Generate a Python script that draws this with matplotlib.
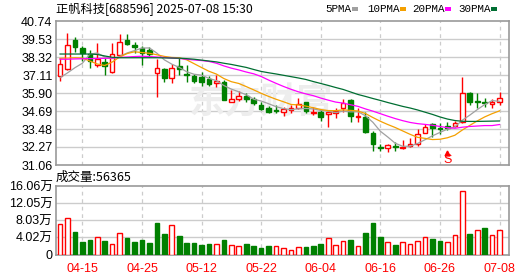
import numpy as np
import matplotlib
matplotlib.use('Agg')
import matplotlib.pyplot as plt
from matplotlib.patches import Rectangle

plt.rcParams['font.family'] = ['Liberation Sans', 'Noto Sans CJK SC']

# trading days shown (MM-DD)
dates = ['04-10', '04-11', '04-14', '04-15', '04-16', '04-17', '04-18', '04-21', '04-22', '04-23',
         '04-24', '04-25', '04-28', '04-29', '04-30', '05-06', '05-07', '05-08', '05-09', '05-12',
         '05-13', '05-14', '05-15', '05-16', '05-19', '05-20', '05-21', '05-22', '05-23', '05-26',
         '05-27', '05-28', '05-29', '05-30', '06-03', '06-04', '06-05', '06-06', '06-09', '06-10',
         '06-11', '06-12', '06-13', '06-16', '06-17', '06-18', '06-19', '06-20', '06-23', '06-24',
         '06-25', '06-26', '06-27', '06-30', '07-01', '07-02', '07-03', '07-04', '07-07', '07-08']

opens = [37.06, 37.49, 39.44, 38.91, 38.50, 37.76, 38.01, 37.31, 38.46, 39.46,
         39.15, 38.95, 38.79, 37.23, 37.51, 36.93, 37.74, 37.17, 37.04, 36.96,
         36.86, 36.55, 36.64, 35.28, 35.50, 35.70, 35.48, 35.07, 34.87, 34.76,
         34.63, 34.76, 34.92, 35.28, 34.54, 34.65, 34.49, 34.54, 34.87, 35.43,
         34.27, 34.27, 33.23, 32.25, 32.23, 32.34, 32.19, 32.36, 32.47, 33.23,
         33.82, 33.57, 33.68, 33.70, 33.97, 35.92, 35.33, 35.30, 35.14, 35.32]
highs = [38.23, 39.93, 39.67, 39.08, 38.79, 39.28, 38.23, 39.24, 39.85, 39.87,
         39.33, 39.06, 39.01, 38.20, 37.56, 37.83, 38.23, 37.78, 37.18, 37.33,
         37.04, 37.11, 36.78, 36.10, 36.06, 35.88, 35.61, 35.32, 35.03, 35.10,
         34.94, 35.10, 35.55, 35.32, 34.98, 34.76, 34.76, 34.87, 35.48, 35.48,
         34.91, 34.65, 33.37, 32.45, 32.45, 32.63, 32.74, 32.90, 33.48, 33.82,
         33.91, 33.91, 33.97, 34.04, 36.96, 35.99, 35.88, 35.55, 35.48, 35.99]
lows = [36.71, 37.45, 38.68, 38.07, 37.56, 37.67, 37.11, 37.23, 38.39, 39.13,
        38.57, 37.78, 38.34, 35.61, 36.66, 36.55, 37.11, 36.66, 36.59, 36.37,
        36.37, 36.33, 35.43, 35.28, 35.38, 35.32, 35.10, 34.76, 34.58, 34.54,
        34.36, 34.58, 34.81, 34.58, 34.42, 34.04, 33.64, 34.20, 34.61, 33.97,
        33.97, 33.23, 32.03, 32.03, 31.92, 32.03, 32.12, 32.29, 32.34, 33.19,
        32.97, 33.15, 33.41, 33.64, 33.87, 35.10, 34.91, 34.98, 34.87, 35.10]
closes = [37.83, 39.11, 39.01, 38.57, 38.05, 38.21, 37.74, 38.50, 39.31, 39.19,
          38.99, 38.61, 38.54, 37.56, 36.93, 37.56, 37.49, 37.11, 36.71, 36.62,
          36.49, 36.73, 35.46, 35.50, 35.72, 35.48, 35.25, 34.85, 34.60, 34.72,
          34.81, 34.92, 35.14, 34.69, 34.60, 34.31, 34.60, 34.69, 35.21, 34.33,
          34.36, 33.26, 32.47, 32.21, 32.39, 32.25, 32.29, 32.47, 33.15, 33.64,
          33.53, 33.48, 33.53, 33.91, 35.88, 35.27, 35.29, 35.25, 35.28, 35.59]

# volume in 万 (10k shares)
volumes = [7.2, 8.5, 5.35, 3.0, 3.5, 4.1, 3.26, 2.5, 5.0, 3.96,
           3.0, 3.5, 2.8, 7.45, 4.9, 6.9, 4.4, 2.8, 2.8, 2.3,
           2.56, 2.56, 3.5, 2.25, 2.0, 2.56, 2.1, 1.63, 2.1, 2.0,
           1.55, 1.1, 1.8, 1.86, 2.1, 2.56, 3.9, 2.25, 3.2, 3.5,
           2.0, 5.1, 7.45, 4.2, 2.95, 2.3, 2.95, 2.5, 3.2, 4.1,
           3.7, 3.26, 2.95, 4.6, 14.8, 4.9, 5.75, 6.3, 4.6, 5.64]

ma5 = [36.93, 37.25, 37.60, 37.90, 38.51, 38.59, 38.32, 38.21, 38.36, 38.59,
       38.75, 38.92, 38.93, 38.58, 38.13, 37.84, 37.62, 37.33, 37.16, 37.10,
       36.88, 36.73, 36.40, 36.16, 35.98, 35.78, 35.48, 35.36, 35.18, 34.98,
       34.85, 34.78, 34.84, 34.86, 34.83, 34.73, 34.67, 34.58, 34.68, 34.63,
       34.64, 34.37, 33.93, 33.33, 32.94, 32.52, 32.32, 32.32, 32.51, 32.76,
       33.02, 33.25, 33.47, 33.62, 34.07, 34.41, 34.78, 35.12, 35.39, 35.34]
ma10 = [38.23, 38.25, 38.27, 38.25, 38.05, 37.85, 37.75, 37.98, 38.32, 38.55,
        38.67, 38.62, 38.57, 38.47, 38.36, 38.29, 38.27, 38.13, 37.87, 37.61,
        37.36, 37.17, 36.87, 36.66, 36.54, 36.33, 36.11, 35.88, 35.67, 35.48,
        35.31, 35.13, 35.10, 35.02, 34.91, 34.79, 34.72, 34.71, 34.77, 34.73,
        34.69, 34.52, 34.25, 34.00, 33.78, 33.58, 33.35, 33.12, 32.92, 32.85,
        32.77, 32.79, 32.89, 33.06, 33.41, 33.72, 34.02, 34.29, 34.51, 34.70]
ma20 = [38.17, 38.17, 38.19, 38.20, 38.21, 38.22, 38.23, 38.25, 38.29, 38.32,
        38.35, 38.37, 38.35, 38.32, 38.29, 38.25, 38.22, 38.17, 38.12, 38.08,
        38.02, 37.90, 37.72, 37.57, 37.45, 37.31, 37.19, 37.01, 36.77, 36.55,
        36.34, 36.15, 35.98, 35.84, 35.72, 35.56, 35.42, 35.29, 35.22, 35.11,
        35.00, 34.83, 34.68, 34.51, 34.34, 34.18, 34.04, 33.92, 33.84, 33.79,
        33.73, 33.65, 33.57, 33.53, 33.60, 33.65, 33.68, 33.71, 33.71, 33.78]
ma30 = [38.52, 38.52, 38.52, 38.52, 38.52, 38.49, 38.39, 38.30, 38.27, 38.27,
        38.27, 38.27, 38.27, 38.27, 38.26, 38.25, 38.24, 38.21, 38.17, 38.11,
        38.05, 37.99, 37.90, 37.82, 37.72, 37.62, 37.48, 37.35, 37.26, 37.18,
        37.09, 37.00, 36.91, 36.81, 36.67, 36.54, 36.41, 36.27, 36.14, 35.97,
        35.80, 35.67, 35.53, 35.40, 35.26, 35.13, 35.00, 34.89, 34.76, 34.61,
        34.46, 34.29, 34.15, 34.05, 34.00, 33.99, 33.99, 34.00, 34.01, 34.02]

price_ticks = [31.06, 32.27, 33.48, 34.69, 35.90, 37.11, 38.32, 39.53, 40.74]
vol_ticks = [0, 4.02, 8.03, 12.05, 16.06]
vol_tick_labels = ['0', '4.02万', '8.03万', '12.05万', '16.06万']
date_ticks = ['04-15', '04-25', '05-12', '05-22', '06-04', '06-16', '06-26', '07-08']
signal_date = '06-27'
last_volume = 56365

RED = '#ff0000'
GREEN = '#008000'
FRAME = '#999999'
GRID = '#cccccc'
ma_styles = [('5PMA', ma5, '#a0a0a0'), ('10PMA', ma10, '#f4a000'),
             ('20PMA', ma20, '#ff00ff'), ('30PMA', ma30, '#006e32')]

n = len(dates)
x = np.arange(n)
tick_pos = [dates.index(d) for d in date_ticks]
bw = 0.62

fig = plt.figure(figsize=(5.3, 2.76), dpi=100)
ax = fig.add_axes([56 / 530, 1 - 165 / 276, 453 / 530, 144 / 276])
vax = fig.add_axes([56 / 530, 1 - 254.5 / 276, 453 / 530, 68.5 / 276])

for a in (ax, vax):
    a.set_xlim(-0.54, n + 0.27)
    for s in a.spines.values():
        s.set_color(FRAME)
        s.set_linewidth(1.2)
    a.tick_params(length=0, labelsize=9, pad=2.5)
    for p in tick_pos:
        a.axvline(p, color=GRID, lw=0.9, ls=(0, (3, 3)), zorder=0)

# --- price panel
ax.set_ylim(price_ticks[0], price_ticks[-1])
ax.set_yticks(price_ticks)
ax.set_yticklabels(['%.2f' % t for t in price_ticks])
ax.set_xticks([])
for t in price_ticks[1:-1]:
    ax.axhline(t, color=GRID, lw=1, zorder=0)

# faint watermark
ax.text(27, 35.3, '东方财富', fontsize=26, color='#ededed', ha='center', va='center',
        family=['Noto Sans CJK SC'], fontweight='bold', zorder=1)

for i in range(n):
    up = closes[i] >= opens[i]
    c = RED if up else GREEN
    ax.vlines(i, lows[i], highs[i], color=c, lw=1, zorder=3)
    lo, hi = min(opens[i], closes[i]), max(opens[i], closes[i])
    ax.add_patch(Rectangle((i - bw / 2, lo), bw, max(hi - lo, 0.025),
                           facecolor='white' if up else c, edgecolor=c, lw=1, zorder=4))

for name, vals, col in ma_styles:
    ax.plot(x, vals, color=col, lw=0.9, zorder=5)

si = dates.index(signal_date)
ax.plot(si, 31.86, marker='^', color=RED, markersize=3.5, zorder=6)
ax.text(si, 31.42, 'S', color=RED, fontsize=9, ha='center', va='center', zorder=6)

# --- volume panel
vax.set_ylim(0, vol_ticks[-1])
vax.set_yticks(vol_ticks)
vax.set_yticklabels(vol_tick_labels)
for t in vol_ticks[1:-1]:
    vax.axhline(t, color=GRID, lw=1, zorder=0)
vax.set_xticks(tick_pos)
vax.set_xticklabels(date_ticks, color=RED)
vax.tick_params(axis='x', pad=6)

# volume colour follows the change against the previous close
prev = closes[0] - 1
for i in range(n):
    up = closes[i] >= (closes[i - 1] if i > 0 else prev)
    c = RED if up else GREEN
    vax.add_patch(Rectangle((i - bw / 2, 0), bw, volumes[i],
                            facecolor='white' if up else c, edgecolor=c, lw=1, zorder=3))

# --- header texts
cjk = ['Noto Sans CJK SC', 'DejaVu Sans']
fig.text(56 / 530, 1 - 9 / 276, '正帆科技[688596] 2025-07-08 15:30', fontsize=8.8,
         family=cjk, va='center', ha='left')
fig.text(56 / 530, 1 - 177 / 276, '成交量:%d' % last_volume, fontsize=9,
         family=cjk, va='center', ha='left')

leg_x = [325, 367, 412, 458]
for (name, vals, col), lx in zip(ma_styles, leg_x):
    fig.text(lx / 530, 1 - 9 / 276, name, fontsize=7.8, family=['Liberation Mono'],
             va='center', ha='left')
    rx = lx + len(name) * 6.2 + 2
    fig.patches.append(Rectangle((rx / 530, 1 - 10.5 / 276), 6 / 530, 3 / 276,
                                 transform=fig.transFigure, facecolor=col, edgecolor='none'))

fig.savefig('out.png', dpi=100)
